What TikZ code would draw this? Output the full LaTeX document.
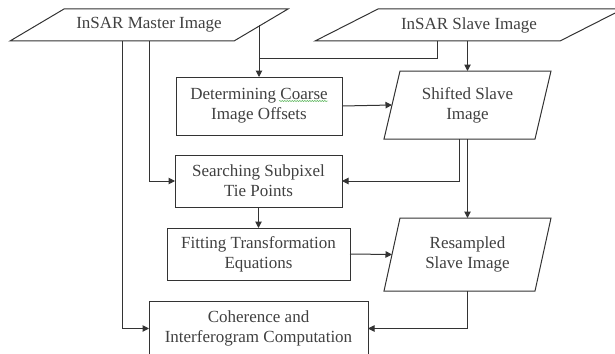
\documentclass[tikz,border=0pt]{standalone}
\usepackage{fontspec}
\setmainfont{Liberation Serif}
\usetikzlibrary{arrows.meta,decorations.pathmorphing}
\newcommand\dataframe[2]{\draw[ln, line join=miter] ([xshift=#2]#1.north west) -- (#1.north east)
    -- ([xshift=-#2]#1.south east) -- (#1.south west) -- cycle;}

\begin{document}
\begin{tikzpicture}[x=1pt,y=-1pt,
    every node/.style={font=\fontsize{17}{20}\selectfont, text=black!75, align=center, inner sep=0pt, outer sep=0pt},
    proc/.style={draw=black!80, line width=1pt, rectangle},
    arr/.style={draw=black!80, line width=1pt, -{Triangle[length=6.5pt,width=6.5pt]}},
    ln/.style={draw=black!80, line width=1pt}]
            \useasboundingbox (0,0) rectangle (615,353);
            \node[minimum width=278pt, minimum height=32pt] (master) at (149,25) {InSAR Master Image};
            \node[minimum width=308pt, minimum height=32pt] (slave) at (469,25) {InSAR Slave Image};
            \node[proc, minimum width=166pt, minimum height=58pt] (coarse) at (259,106) {Determining Coarse\\Image Offsets};
            \node[minimum width=167pt, minimum height=68pt] (shifted) at (467.5,105) {Shifted Slave\\Image};
            \node[proc, minimum width=167pt, minimum height=52pt] (tie) at (258.5,181) {Searching Subpixel\\Tie Points};
            \node[proc, minimum width=183pt, minimum height=52pt] (fit) at (258.5,254) {Fitting Transformation\\Equations};
            \node[minimum width=167pt, minimum height=73pt] (resampled) at (467.5,254.5) {Resampled\\Slave Image};
            \node[proc, minimum width=219pt, minimum height=55pt] (coh) at (258.5,328.5) {Coherence and\\Interferogram Computation};
            \dataframe{master}{54pt}
            \dataframe{slave}{63pt}
            \dataframe{shifted}{16pt}
            \dataframe{resampled}{16pt}
            \draw[arr] ([xshift=-29pt]master.east) coordinate (mE) -- (mE |- coarse.north);
            \draw[ln] ([xshift=-31.5pt]slave.south) -- ++(0,18) -| (mE);
            \draw[arr] (shifted.north |- slave.south) -- (shifted.north);
            \draw[arr] (coarse.east) -- ([xshift=8pt]shifted.west);
            \draw[arr] (master.south) |- (tie.west);
            \draw[arr] ([xshift=-8pt]shifted.south) |- (tie.east);
            \draw[arr] (tie.south) -- (fit.north);
            \draw[arr] (shifted.south) -- (resampled.north);
            \draw[arr] (fit.east) -- ([xshift=8pt]resampled.west);
            \draw[arr] ([xshift=-27pt]master.south) |- (coh.west);
            \draw[arr] (resampled.south) |- (coh.east);
            \draw[green!55!black, line width=0.4pt, decorate, decoration={snake, amplitude=0.4pt, segment length=2.5pt}] (279,101) -- (328,101);
\end{tikzpicture}
\end{document}
